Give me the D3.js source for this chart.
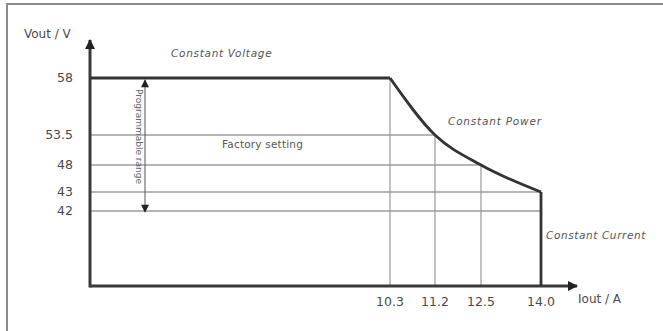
<!DOCTYPE html>
<html><head><meta charset="utf-8">
<script src="https://cdn.jsdelivr.net/npm/d3@7"></script>
<style>
html,body{margin:0;padding:0;background:#fff;}
svg{display:block;font-family:"DejaVu Sans",Arial,sans-serif;}
</style></head>
<body><svg id="c" width="663" height="331"></svg>
<script>
// ---- data ----
const vTicks = [58, 53.5, 48, 43, 42];
const vTickLabels = ["58", "53.5", "48", "43", "42"];
const iTicks = [10.3, 11.2, 12.5, 14.0];
const iTickLabels = ["10.3", "11.2", "12.5", "14.0"];
// outline of the operating area (Iout, Vout)
const cvSegment = [[0, 58], [10.3, 58]];
const cpCurve = [[10.3, 58], [11.2, 53.5], [12.5, 48], [14.0, 43]];
const ccSegment = [[14.0, 43], [14.0, 40]];
// grid lines: horizontal (voltage, up to current), vertical (current, up to voltage)
const hGrid = [[53.5, 11.2], [48, 12.5], [43, 14.0], [42, 14.0]];
const vGrid = [[10.3, 58], [11.2, 53.5], [12.5, 48]];
const progRange = [58, 42];

const svg = d3.select("#c");
// piecewise scales (the reference axes are not linear)
const x = d3.scaleLinear().domain([0, 10.3, 11.2, 12.5, 14.0, 15]).range([90, 390, 435, 481, 541, 577]);
const y = d3.scaleLinear().domain([40, 42, 43, 48, 53.5, 58, 62.5]).range([286, 211, 192, 165, 135, 78, 40]);

// frame
svg.append("path").attr("d", "M7,331V4H663").attr("fill", "none").attr("stroke", "#8a8a8a").attr("stroke-width", 2);

// grid
const gGrid = svg.append("g").attr("stroke", "#b5b5b5").attr("fill", "none");
hGrid.forEach(([v, i]) => gGrid.append("line").attr("x1", x(0)).attr("x2", x(i)).attr("y1", y(v)).attr("y2", y(v)).attr("stroke-width", 2));
vGrid.forEach(([i, v]) => gGrid.append("line").attr("x1", x(i)).attr("x2", x(i)).attr("y1", y(40)).attr("y2", y(v)).attr("stroke", "#999").attr("stroke-width", 1.2));

// markers
const defs = svg.append("defs");
defs.append("marker").attr("id", "ah").attr("viewBox", "0 0 10 10").attr("refX", 9).attr("refY", 5)
  .attr("markerWidth", 11).attr("markerHeight", 10).attr("markerUnits", "userSpaceOnUse").attr("orient", "auto-start-reverse")
  .append("path").attr("d", "M0,0L10,5L0,10Z").attr("fill", "#222");
defs.append("marker").attr("id", "ahs").attr("viewBox", "0 0 10 10").attr("refX", 9).attr("refY", 5)
  .attr("markerWidth", 9).attr("markerHeight", 8).attr("markerUnits", "userSpaceOnUse").attr("orient", "auto-start-reverse")
  .append("path").attr("d", "M0,0L10,5L0,10Z").attr("fill", "#222");

// axes
svg.append("line").attr("x1", x(0)).attr("x2", x(15)).attr("y1", y(40)).attr("y2", y(40))
  .attr("stroke", "#3a3a3a").attr("stroke-width", 3).attr("marker-end", "url(#ah)");
svg.append("line").attr("x1", x(0)).attr("x2", x(0)).attr("y1", y(40) + 1.5).attr("y2", y(62.5))
  .attr("stroke", "#3a3a3a").attr("stroke-width", 3).attr("marker-end", "url(#ah)");

// outline
const line = d3.line().x(d => x(d[0])).y(d => y(d[1]));
const lineC = d3.line().x(d => x(d[0])).y(d => y(d[1])).curve(d3.curveMonotoneX);
svg.append("path").attr("d", line(cvSegment)).attr("fill", "none").attr("stroke", "#333").attr("stroke-width", 2.8);
svg.append("path").attr("d", lineC(cpCurve)).attr("fill", "none").attr("stroke", "#333").attr("stroke-width", 2.8);
svg.append("path").attr("d", line(ccSegment)).attr("fill", "none").attr("stroke", "#333").attr("stroke-width", 2.8);

// programmable range arrow
const px = 145;
svg.append("line").attr("x1", px).attr("x2", px).attr("y1", y(progRange[0]) + 2).attr("y2", y(progRange[1]) + 1)
  .attr("stroke", "#555").attr("stroke-width", 1)
  .attr("marker-start", "url(#ahs)").attr("marker-end", "url(#ahs)");
svg.append("text").attr("transform", `translate(${px - 9},${(y(progRange[0]) + y(progRange[1])) / 2 - 8}) rotate(90)`)
  .attr("text-anchor", "middle").attr("font-size", 9).attr("fill", "#666").text("Programmable range");

// tick labels
svg.append("g").selectAll("text").data(vTicks).join("text")
  .attr("x", 73).attr("y", d => y(d)).attr("dy", "0.35em").attr("text-anchor", "end")
  .attr("font-size", 12.5).attr("fill", "#4a4a4a").text((d, i) => vTickLabels[i]);
svg.append("g").selectAll("text").data(iTicks).join("text")
  .attr("x", d => x(d)).attr("y", 302).attr("dy", "0.35em").attr("text-anchor", "middle")
  .attr("font-size", 12.5).attr("fill", "#4a4a4a").text((d, i) => iTickLabels[i]);

// axis titles
svg.append("text").attr("x", 24).attr("y", 38).attr("font-size", 12).attr("fill", "#4a4a4a").text("Vout / V");
svg.append("text").attr("x", 578).attr("y", 303).attr("font-size", 12).attr("fill", "#4a4a4a").text("Iout / A");

// region labels
const lab = (t, xx, yy, it, ls) => svg.append("text").attr("x", xx).attr("y", yy).attr("font-size", 10.5)
  .attr("letter-spacing", ls).attr("font-style", it ? "italic" : "normal").attr("fill", "#555").text(t);
lab("Constant Voltage", 171, 57, true, 0.7);
lab("Constant Power", 448, 125, true, 0.8);
lab("Factory setting", 222, 148, false, 0.2);
lab("Constant Current", 546, 239, true, 0.6);
</script></body></html>
